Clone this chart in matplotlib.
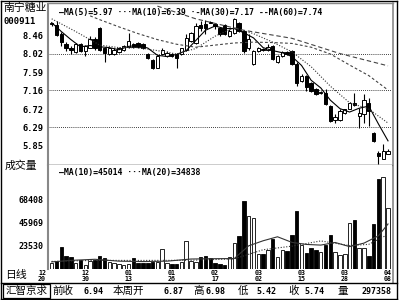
import numpy as np
import matplotlib.pyplot as plt
from matplotlib.lines import Line2D
from matplotlib.patches import Rectangle
import matplotlib.transforms as mtransforms

plt.rcParams['font.family'] = ['DejaVu Sans Mono', 'Noto Sans CJK SC']

# ---------------- data ----------------
opens = [8.73, 8.71, 8.50, 8.26, 8.17, 8.07, 8.26, 8.10, 8.17, 8.38,
         8.64, 8.17, 8.03, 8.03, 8.07, 8.12, 8.19, 8.26, 8.29, 8.26,
         8.03, 7.88, 7.70, 8.03, 7.98, 8.03, 8.03, 8.03, 8.12, 8.33,
         8.29, 8.71, 8.73, 8.78, 8.73, 8.64, 8.71, 8.45, 8.52, 8.76,
         8.57, 8.15, 7.79, 8.10, 8.14, 8.12, 8.22, 7.82, 7.98, 8.07,
         8.10, 7.79, 7.39, 7.51, 7.34, 7.20, 7.11, 7.11, 6.80, 6.47,
         6.47, 6.63, 6.73, 6.87, 6.56, 6.61, 6.87, 6.16, 5.69, 5.55,
         5.67]
highs = [8.76, 8.81, 8.55, 8.31, 8.22, 8.29, 8.28, 8.24, 8.45, 8.41,
         8.66, 8.19, 8.17, 8.15, 8.19, 8.24, 8.52, 8.29, 8.31, 8.28,
         8.05, 7.91, 8.00, 8.17, 8.10, 8.05, 8.05, 8.17, 8.50, 8.55,
         8.76, 8.81, 8.83, 8.79, 8.76, 8.66, 8.73, 8.62, 8.88, 8.78,
         8.59, 8.50, 8.12, 8.19, 8.15, 8.26, 8.24, 8.00, 8.10, 8.10,
         8.12, 7.84, 7.55, 7.53, 7.37, 7.22, 7.15, 7.20, 6.82, 6.61,
         6.71, 6.73, 6.89, 7.11, 6.75, 7.08, 6.98, 6.19, 5.74, 5.90,
         5.78]
lows = [8.68, 8.45, 8.22, 8.10, 8.03, 8.05, 8.07, 7.98, 8.15, 8.12,
        8.10, 7.82, 8.00, 7.99, 8.05, 8.10, 8.15, 8.17, 8.17, 8.14,
        7.91, 7.67, 7.68, 8.00, 7.96, 7.95, 7.70, 8.00, 8.10, 8.31,
        8.26, 8.57, 8.50, 8.74, 8.62, 8.45, 8.47, 8.43, 8.50, 8.55,
        8.05, 8.12, 7.77, 8.07, 8.10, 8.10, 7.89, 7.80, 7.96, 8.00,
        7.77, 7.27, 7.37, 7.15, 7.13, 7.06, 7.08, 6.82, 6.42, 6.38,
        6.45, 6.61, 6.71, 6.80, 6.28, 6.40, 6.33, 5.95, 5.42, 5.53,
        5.65]
closes = [8.74, 8.48, 8.31, 8.17, 8.12, 8.26, 8.10, 8.22, 8.38, 8.15,
          8.12, 8.05, 8.15, 8.12, 8.17, 8.22, 8.33, 8.19, 8.19, 8.17,
          7.93, 7.70, 7.98, 8.12, 8.05, 7.98, 7.93, 8.15, 8.40, 8.52,
          8.69, 8.64, 8.64, 8.75, 8.69, 8.50, 8.50, 8.57, 8.85, 8.57,
          8.10, 8.38, 8.10, 8.17, 8.12, 8.19, 7.91, 7.98, 8.07, 8.03,
          7.79, 7.34, 7.51, 7.23, 7.15, 7.08, 7.12, 6.85, 6.45, 6.54,
          6.68, 6.71, 6.87, 6.82, 6.63, 6.94, 6.68, 5.97, 5.62, 5.74,
          5.74]
volumes = [7000, 9000, 22500, 13800, 12800, 7000, 9900, 5000, 8900, 9900,
           13800, 11800, 8000, 7000, 6000, 5000, 6000, 11800, 7000, 7000,
           7000, 8000, 8000, 20600, 7000, 6000, 6000, 8000, 28700, 9000,
           8000, 12800, 14000, 12000, 7000, 6000, 5000, 12800, 26500, 33300,
           67700, 52800, 50800, 15700, 15700, 19600, 30400, 12800, 19600, 19000,
           34300, 58000, 24500, 16700, 21600, 19600, 18000, 24500, 34300, 18000,
           14800, 15700, 46000, 48900, 21600, 21600, 13800, 45000, 88900, 91100,
           60600]

ma5_idx = list(range(0, 71, 2))
ma5 = [8.76, 8.55, 8.36, 8.19, 8.22, 8.19, 8.17, 8.12, 8.20, 8.22,
       8.16, 7.99, 7.96, 8.01, 8.10, 8.34, 8.58, 8.68, 8.62, 8.62,
       8.52, 8.40, 8.17, 8.10, 8.05, 7.96, 7.75, 7.40, 7.22, 6.93,
       6.73, 6.65, 6.74, 6.79, 6.37, 5.97]
ma10_idx = [0, 5, 10, 14, 18, 22, 26, 30, 34, 38, 42, 46, 50, 54, 58, 62, 66, 70]
ma10 = [8.85, 8.55, 8.23, 8.17, 8.17, 8.10, 8.02, 8.15, 8.44, 8.64,
        8.50, 8.30, 8.07, 7.72, 7.26, 6.87, 6.72, 6.39]
ma30_idx = [8, 10, 14, 18, 22, 26, 30, 34, 38, 42, 46, 50, 54, 58, 62, 66, 70]
ma30 = [8.92, 8.83, 8.66, 8.50, 8.36, 8.25, 8.18, 8.23, 8.28, 8.30,
        8.29, 8.27, 8.18, 8.02, 7.76, 7.51, 7.17]
ma60_idx = [22, 30, 40, 50, 60, 70]
ma60 = [9.15, 8.85, 8.58, 8.39, 8.03, 7.74]

vma10_idx = [0, 4, 9, 14, 19, 24, 29, 34, 38, 41, 44, 47, 50, 53, 56, 59, 62, 65, 68, 70]
vma10 = [8000, 9500, 10580, 8730, 8340, 8740, 10830, 11150, 11310, 23710,
         28630, 32530, 27070, 25060, 24410, 26950, 22920, 26340, 33430, 45014]
vma20_idx = [0, 9, 19, 29, 38, 44, 50, 56, 62, 66, 70]
vma20 = [8500, 9500, 9460, 9585, 10970, 19890, 23390, 28470, 23940, 25165, 34838]

date_idx = [-2, 7, 16, 25, 34, 43, 52, 61, 70]
date_labels = ['12\n20', '12\n30', '01\n13', '01\n26', '02\n17',
               '03\n02', '03\n15', '03\n28', '04\n08']

price_ticks = [8.46, 8.02, 7.59, 7.16, 6.72, 6.29, 5.85]
grid_prices = [8.02, 7.16, 6.29]
vol_ticks = [68408, 45969, 23530]

price_legend = '—MA(5)=5.97 ···MA(10)=6.39 ·-MA(30)=7.17 --MA(60)=7.74'
vol_legend = '—MA(10)=45014 ···MA(20)=34838'

# bottom info row: label, value
info_labels = ['前收', '本周开', '高', '低', '收', '量']
info_values = ['6.94', '6.87', '6.98', '5.42', '5.74', '297358']

# ---------------- figure ----------------
W, H = 400, 300
fig = plt.figure(figsize=(4, 3), dpi=100)


def fx(px):
    return px / W


def fy(py):
    return 1 - py / H


xl = (-0.77, 70.83)
ax = fig.add_axes([fx(48), fy(165), fx(392) - fx(48), fy(4) - fy(165)])
axv = fig.add_axes([fx(48), fy(269), fx(392) - fx(48), fy(165) - fy(269)])

x = np.arange(len(closes))
o = np.array(opens)
c = np.array(closes)
up = c >= o
fills = np.where(up, 'white', 'black')

# candles
ax.vlines(x, lows, highs, color='black', lw=0.8, zorder=2)
body_h = np.maximum(np.abs(c - o), 0.012)
ax.bar(x, body_h, bottom=np.minimum(o, c), width=0.7, color=fills,
       edgecolor='black', lw=0.7, zorder=3)

ax.plot(ma5_idx, ma5, color='black', lw=0.8, zorder=4)
ax.plot(ma10_idx, ma10, color='#333333', lw=0.8, ls=(0, (1, 1.5)), zorder=4)
ax.plot(ma30_idx, ma30, color='#444444', lw=0.8, ls=(0, (2.5, 2)), zorder=4)
ax.plot(ma60_idx, ma60, color='#444444', lw=0.8, ls=(0, (4, 2.5)), zorder=4)

for gp in grid_prices:
    ax.axhline(gp, color='black', lw=0.6, ls=(0, (1, 1.5)), zorder=1)

ax.set_xlim(*xl)
ax.set_ylim(5.40, 9.20)
ax.set_xticks([])
ax.set_yticks(price_ticks)
ax.set_yticklabels([f'{p:.2f}' for p in price_ticks], fontweight='bold')
ax.tick_params(axis='y', length=0, pad=3, labelsize=6.3)
for s in ['top', 'right']:
    ax.spines[s].set_visible(False)
ax.spines['left'].set_color('#888888')
ax.spines['left'].set_linewidth(1.5)
ax.spines['bottom'].set_linewidth(1.0)

# volume
axv.bar(x, volumes, width=0.72, color=fills, edgecolor='black', lw=0.6)
axv.plot(vma10_idx, vma10, color='#333333', lw=0.8)
axv.plot(vma20_idx, vma20, color='#333333', lw=0.8, ls=(0, (1, 1.5)))
axv.set_xlim(*xl)
axv.set_ylim(1091, 102554)
axv.set_xticks([])
axv.set_yticks(vol_ticks)
axv.set_yticklabels([str(v) for v in vol_ticks], fontweight='bold')
axv.tick_params(axis='y', length=0, pad=3, labelsize=6.0)
for s in ['top', 'right', 'bottom']:
    axv.spines[s].set_visible(False)
axv.spines['left'].set_color('#888888')
axv.spines['left'].set_linewidth(1.5)

# legends
leg_kw = dict(fontsize=5.9, fontweight='bold', va='center', ha='left')
fig.text(fx(59), fy(13), price_legend, **leg_kw)
fig.text(fx(59), fy(173), vol_legend, **leg_kw)

# left labels
fig.text(fx(3), fy(8), '南宁糖业', fontsize=7.8, va='center', ha='left')
fig.text(fx(4), fy(22), '000911', fontsize=6.5, fontweight='bold', va='center', ha='left')
fig.text(fx(5), fy(166), '成交量', fontsize=7.8, va='center', ha='left')
fig.text(fx(5), fy(275), '日线', fontsize=7.8, va='center', ha='left')

# date labels
tr = mtransforms.blended_transform_factory(axv.transData, fig.transFigure)
for di, dl in zip(date_idx, date_labels):
    fig.text(di, fy(276), dl, transform=tr, fontsize=4.8, fontweight='bold',
             ha='center', va='center', linespacing=1.0)

# bottom info row
fig.text(fx(27), fy(291), '汇智京求', fontsize=7.6, va='center', ha='center')
lab_x = [52, 113, 193, 238, 288, 337]
val_x = [104, 184, 226, 276, 324, 392]
for lx, lt in zip(lab_x, info_labels):
    fig.text(fx(lx), fy(291), lt, fontsize=7.6, va='center', ha='left')
for vx, vt in zip(val_x, info_values):
    fig.text(fx(vx), fy(291), vt, fontsize=6.0, fontweight='bold', va='center', ha='right')


# frame lines
def fline(x0, y0, x1, y1, color='black', lw=1.0):
    fig.add_artist(Line2D([fx(x0), fx(x1)], [fy(y0), fy(y1)], color=color, lw=lw))


fline(1, 1, 397, 1)
fline(1, 299, 397, 299)
fline(1, 1, 1, 299)
fline(397, 1, 397, 299)
fline(393, 3, 393, 283, color='#888888', lw=1.2)
fline(48, 3, 393, 3, color='#888888', lw=1.0)
fline(1, 283, 397, 283)
fig.add_artist(Rectangle((fx(3), fy(298)), fx(50) - fx(3), fy(284) - fy(298),
                         transform=fig.transFigure, fill=False, lw=0.9, color='black'))

fig.savefig('out.png', dpi=100)
